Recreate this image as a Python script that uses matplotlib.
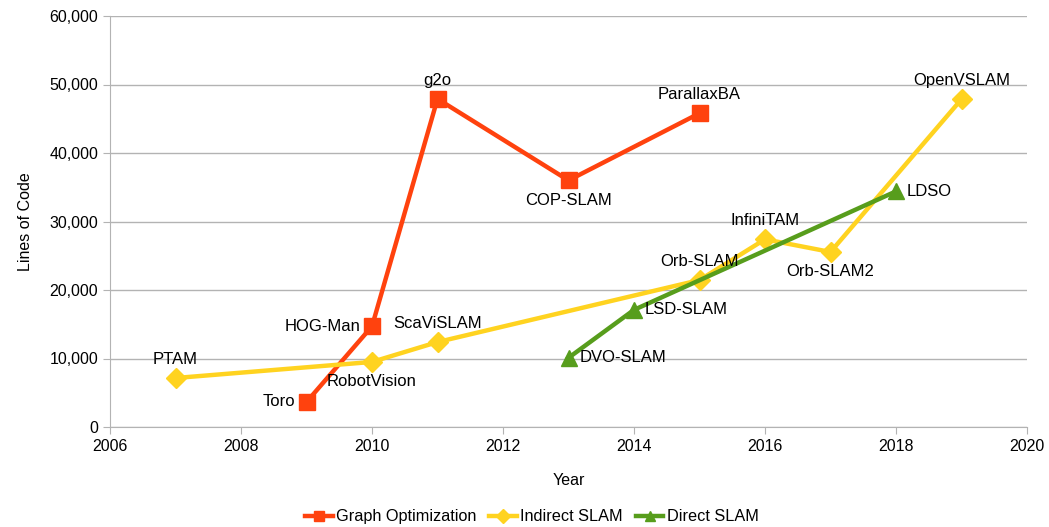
import matplotlib
matplotlib.use("Agg")
import matplotlib.pyplot as plt
from matplotlib.ticker import FuncFormatter

plt.rcParams['font.family'] = ['Liberation Sans', 'DejaVu Sans']

# Graph optimization
go_years = [2009, 2010, 2011, 2013, 2015]
go_loc = [3650, 14700, 47900, 36000, 45800]
go_names = ["Toro", "HOG-Man", "g2o", "COP-SLAM", "ParallaxBA"]
go_pos = ["left", "left", "above", "below", "above"]

# Indirect SLAM
ind_years = [2007, 2010, 2011, 2015, 2016, 2017, 2019]
ind_loc = [7150, 9500, 12400, 21450, 27400, 25550, 47850]
ind_names = ["PTAM", "RobotVision", "ScaViSLAM", "Orb-SLAM", "InfiniTAM", "Orb-SLAM2", "OpenVSLAM"]
ind_pos = ["above", "below", "above", "above", "above", "below", "above"]

# Direct SLAM
dir_years = [2013, 2014, 2018]
dir_loc = [10100, 17100, 34400]
dir_names = ["DVO-SLAM", "LSD-SLAM", "LDSO"]
dir_pos = ["right", "right", "right"]

fig = plt.figure(figsize=(10.49, 5.27), dpi=100)
ax = fig.add_axes([110/1049, 1-427/527, (1027-110)/1049, (427-16)/527])

series = [
    (go_years, go_loc, go_names, go_pos, "#ff420e", "s", 11, "Graph Optimization"),
    (ind_years, ind_loc, ind_names, ind_pos, "#ffd320", "D", 10, "Indirect SLAM"),
    (dir_years, dir_loc, dir_names, dir_pos, "#579d1c", "^", 11, "Direct SLAM"),
]

offsets = {"above": (0, 8, "center", "bottom"),
           "below": (0, -9, "center", "top"),
           "left": (-8, 0, "right", "center"),
           "right": (8, 0, "left", "center")}

for xs, ys, names, pos, col, mk, ms, lab in series:
    ax.plot(xs, ys, color=col, lw=3.2, marker=mk, markersize=ms, label=lab, zorder=3)
    for x, y, n, p in zip(xs, ys, names, pos):
        dx, dy, ha, va = offsets[p]
        ax.annotate(n, (x, y), xytext=(dx, dy), textcoords="offset points",
                    ha=ha, va=va, fontsize=12, color="#000000", zorder=4)

ax.set_xlim(2006, 2020)
ax.set_ylim(0, 60000)
ax.set_xticks(range(2006, 2021, 2))
ax.set_yticks(range(0, 60001, 10000))
ax.yaxis.set_major_formatter(FuncFormatter(lambda v, p: f"{int(v):,}"))
ax.grid(axis="y", color="#b3b3b3", lw=1)
ax.set_axisbelow(True)
for s in ["top", "right"]:
    ax.spines[s].set_visible(False)
for s in ["left", "bottom"]:
    ax.spines[s].set_color("#b3b3b3")
ax.tick_params(colors="#b3b3b3", labelcolor="#000000", labelsize=11.5, length=5)
ax.set_xlabel("Year", fontsize=11.5, labelpad=14)
ax.set_ylabel("Lines of Code", fontsize=11.5, labelpad=12)

ax.legend(loc="upper center", bbox_to_anchor=(0.46, -0.165), ncol=3, frameon=False,
          fontsize=11.7, handlelength=1.7, handletextpad=0.2, columnspacing=0.8, markerscale=0.7)

fig.savefig("out.png", dpi=100)
